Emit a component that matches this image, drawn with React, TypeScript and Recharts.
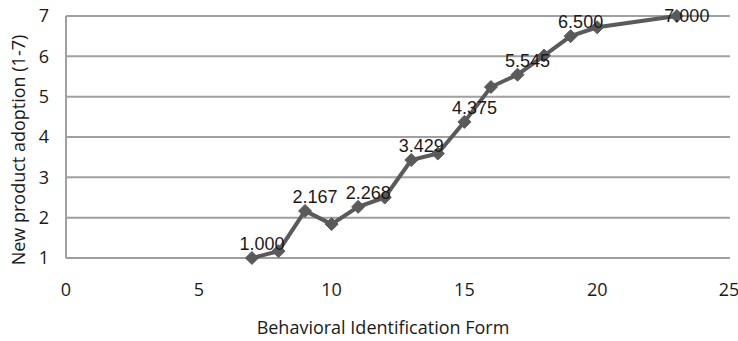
import React from 'react';
import { LineChart, Line, XAxis, YAxis, CartesianGrid, LabelList } from 'recharts';

const xValues = [7, 8, 9, 10, 11, 12, 13, 14, 15, 16, 17, 18, 19, 20, 23];
const yValues = [1.0, 1.17, 2.167, 1.84, 2.268, 2.5, 3.429, 3.59, 4.375, 5.24, 5.545, 6.02, 6.5, 6.72, 7.0];
const pointLabels = ['1.000', '', '2.167', '', '2.268', '', '3.429', '', '4.375', '', '5.545', '', '6.500', '', '7.000'];
const xTicks = [0, 5, 10, 15, 20, 25];
const yTicks = [1, 2, 3, 4, 5, 6, 7];
const xTitle = 'Behavioral Identification Form';
const yTitle = 'New product adoption (1-7)';

const data = xValues.map((x, i) => ({ x, y: yValues[i], label: pointLabels[i] }));

const LINE = '#5a5a5a';
const GRID = '#a0a0a0';
const FONT = '"Open Sans", sans-serif';

const Diamond = (props: any) => {
  const { cx, cy } = props;
  if (cx == null || cy == null) return null;
  const r = 6.5;
  return (
    <polygon
      points={`${cx},${cy - r} ${cx + r},${cy} ${cx},${cy + r} ${cx - r},${cy}`}
      fill={LINE}
      stroke={LINE}
      strokeWidth={1}
    />
  );
};

const PointLabel = (props: any) => {
  const { x, y, value } = props;
  if (!value) return null;
  const atTop = y < 25;
  return (
    <text
      x={x + 10}
      y={atTop ? y : y - 14}
      textAnchor="middle"
      dominantBaseline="central"
      fontFamily='"Liberation Sans Narrow", "Liberation Sans", sans-serif'
      fontSize={18}
      fill="#1a1a1a"
    >
      {value}
    </text>
  );
};

const XTitle = (props: any) => {
  const { viewBox } = props;
  const cx = viewBox.x + viewBox.width / 2 - 15;
  return (
    <text x={cx} y={334} textAnchor="middle" fontFamily={FONT} fontSize={18} fill="#1a1a1a">
      {xTitle}
    </text>
  );
};

const YTitle = (props: any) => {
  const { viewBox } = props;
  const cy = viewBox.y + viewBox.height / 2 + 13;
  return (
    <text
      x={18}
      y={cy}
      transform={`rotate(-90, 18, ${cy})`}
      textAnchor="middle"
      dominantBaseline="central"
      fontFamily={FONT}
      fontSize={18}
      fill="#1a1a1a"
    >
      {yTitle}
    </text>
  );
};

export default function App() {
  return (
    <div style={{ position: 'absolute', left: 0, top: 0, width: 738, height: 341, background: '#fff' }}>
      <LineChart width={738} height={341} data={data} margin={{ top: 16, right: 8, left: 0, bottom: 0 }}>
        <CartesianGrid vertical={false} stroke={GRID} strokeWidth={2} />
        <XAxis
          dataKey="x"
          type="number"
          domain={[0, 25]}
          ticks={xTicks}
          axisLine={false}
          tickLine={false}
          tickSize={0}
          tickMargin={25}
          height={83}
          tick={{ fontFamily: FONT, fontSize: 18, fill: '#1a1a1a' }}
          label={<XTitle />}
        />
        <YAxis
          type="number"
          domain={[1, 7]}
          ticks={yTicks}
          width={66}
          axisLine={{ stroke: GRID, strokeWidth: 2 }}
          tickLine={false}
          tickSize={0}
          tickMargin={17}
          tick={{ fontFamily: FONT, fontSize: 18, fill: '#1a1a1a' }}
          label={<YTitle />}
        />
        <Line
          dataKey="y"
          stroke={LINE}
          strokeWidth={4}
          dot={<Diamond />}
          activeDot={false}
          isAnimationActive={false}
        >
          <LabelList dataKey="label" content={<PointLabel />} />
        </Line>
      </LineChart>
    </div>
  );
}
